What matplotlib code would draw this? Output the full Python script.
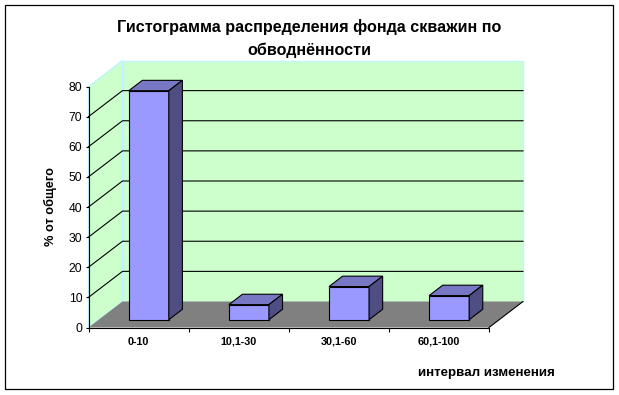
import matplotlib
matplotlib.use("Agg")
import matplotlib.pyplot as plt
from matplotlib.patches import Polygon, Rectangle

categories = ["0-10", "10,1-30", "30,1-60", "60,1-100"]
values = [76, 5, 11, 8]
yticks = [0, 10, 20, 30, 40, 50, 60, 70, 80]
title_lines = ["Гистограмма распределения фонда скважин по", "обводнённости"]
ylabel = "% от общего"
xlabel = "интервал изменения"

plt.rcParams['font.family'] = ['Liberation Sans', 'DejaVu Sans']

W, H = 619, 395
fig = plt.figure(figsize=(W / 100, H / 100), dpi=100)
fig.patch.set_facecolor('white')

# outer frame
fig.patches.append(Rectangle((5 / W, 1 - 389 / H), 608 / W, 384 / H,
                             transform=fig.transFigure, fill=False,
                             edgecolor='black', lw=0.9))

left_px, right_px, top_px, bot_px = 88.5, 489.0, 86.5, 327.5
ax = fig.add_axes([left_px / W, 1 - bot_px / H, (right_px - left_px) / W,
                   (bot_px - top_px) / H])
ax.patch.set_visible(False)
n = len(categories)
ax.set_xlim(0, n)
ax.set_ylim(0, 80)

px_x = (right_px - left_px) / n
px_y = (bot_px - top_px) / 80
DX = 34 / px_x
DY = 26 / px_y


def P(x, v, d):
    return (x + DX * d, v + DY * d)


def face(pts, fc, ec, lw=0.8, z=1):
    poly = Polygon([P(*p) for p in pts], closed=True, facecolor=fc,
                   edgecolor=ec, lw=lw, clip_on=False, zorder=z)
    ax.add_patch(poly)


wall = '#CCFFCC'
wall_edge = '#BFF5FF'
ymax = yticks[-1]
# back wall
face([(0, 0, 1), (n, 0, 1), (n, ymax, 1), (0, ymax, 1)], wall, wall_edge, 1.0, 0.5)
# left wall
face([(0, 0, 0), (0, 0, 1), (0, ymax, 1), (0, ymax, 0)], wall, wall_edge, 1.0, 0.5)
# floor
face([(0, 0, 0), (n, 0, 0), (n, 0, 1), (0, 0, 1)], '#808080', 'none', 0, 0.6)
x1, y1 = P(n, 0, 0)
x2, y2 = P(n, 0, 1)
ax.plot([x1, x2], [y1, y2], color='black', lw=0.8, clip_on=False, zorder=0.7)

# gridlines
for v in yticks[1:-1]:
    pts = [P(0, v, 0), P(0, v, 1), P(n, v, 1)]
    ax.plot([p[0] for p in pts], [p[1] for p in pts], color='black', lw=0.8,
            clip_on=False, zorder=0.8)

# bars
front_c, top_c, side_c = '#9999FF', '#7777C4', '#4E4E82'
for i, v in enumerate(values):
    xa, xb = i + 0.3, i + 0.7
    d0, d1 = 0.3, 0.7
    face([(xa, 0, d0), (xb, 0, d0), (xb, v, d0), (xa, v, d0)], front_c, 'black', 0.8, 2)
    face([(xa, v, d0), (xb, v, d0), (xb, v, d1), (xa, v, d1)], top_c, 'black', 0.8, 2)
    face([(xb, 0, d0), (xb, 0, d1), (xb, v, d1), (xb, v, d0)], side_c, 'black', 0.8, 2)

for s in ['top', 'right']:
    ax.spines[s].set_visible(False)
for s in ['left', 'bottom']:
    ax.spines[s].set_linewidth(0.8)
    ax.spines[s].set_zorder(3)

ax.set_yticks(yticks)
ax.set_yticklabels([str(t) for t in yticks], fontsize=8.7)
ax.tick_params(axis='y', direction='out', length=2.5, width=0.8, pad=2)
ax.set_xticks(range(n + 1))
ax.set_xticklabels([])
ax.tick_params(axis='x', which='major', direction='out', length=3, width=0.8)
ax.set_xticks([i + 0.5 for i in range(n)], minor=True)
ax.set_xticklabels(categories, minor=True, fontsize=7.8, fontweight='bold')
ax.tick_params(axis='x', which='minor', length=0, pad=6.5)

fig.text(309 / W, 1 - 27 / H, title_lines[0], ha='center', va='center',
         fontsize=11.6, fontweight='bold')
fig.text(309 / W, 1 - 50 / H, title_lines[1], ha='center', va='center',
         fontsize=11.6, fontweight='bold')
fig.text(50 / W, 1 - 206 / H, ylabel, ha='center', va='center', rotation=90,
         fontsize=9.2, fontweight='bold')
fig.text(486 / W, 1 - 373 / H, xlabel, ha='center', va='center',
         fontsize=9.6, fontweight='bold')

fig.savefig('out.png', dpi=100)
